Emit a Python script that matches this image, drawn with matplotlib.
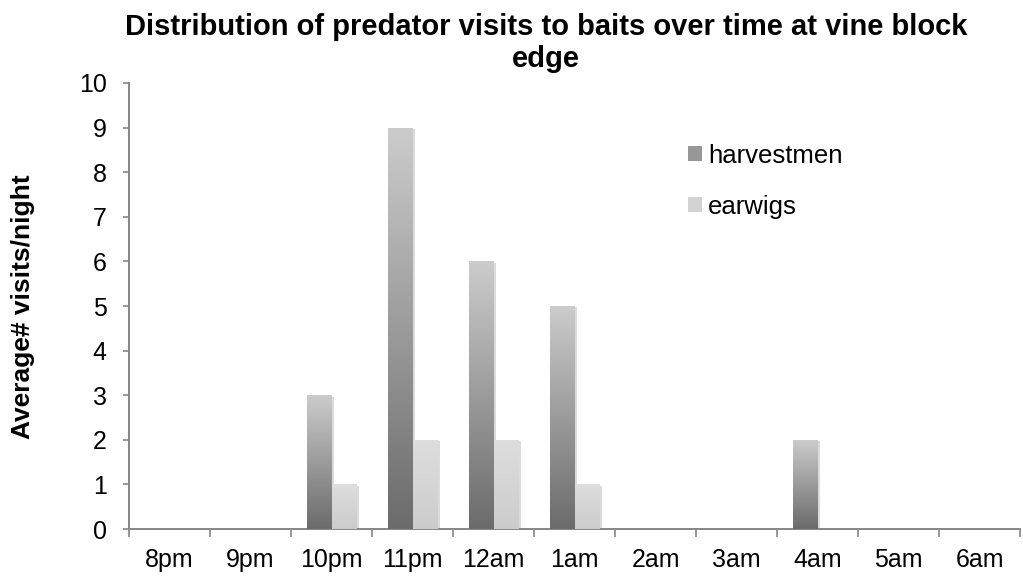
import numpy as np
import matplotlib.pyplot as plt
import matplotlib.patheffects as pe
from matplotlib.patches import Patch

plt.rcParams['font.family'] = ['Liberation Sans', 'DejaVu Sans']

# chart data
hours = ["8pm", "9pm", "10pm", "11pm", "12am", "1am", "2am", "3am", "4am", "5am", "6am"]
harvestmen = [0, 0, 3, 9, 6, 5, 0, 0, 2, 0, 0]
earwigs = [0, 0, 1, 2, 2, 1, 0, 0, 0, 0, 0]


def gradient_bars(ax, bars, bottom_col, top_col):
    """Fill each bar with a vertical gradient clipped to its rectangle."""
    grad = np.linspace(0, 1, 256).reshape(-1, 1, 1)
    b = np.array(bottom_col)
    t = np.array(top_col)
    img = b + (t - b) * grad
    for bar in bars:
        h = bar.get_height()
        if h <= 0:
            bar.set_visible(False)
            continue
        x0 = bar.get_x()
        w = bar.get_width()
        # keep the patch for its soft shadow, the image goes on top
        bar.set_facecolor("white")
        bar.set_edgecolor("none")
        bar.set_path_effects([pe.SimplePatchShadow(offset=(2, -1), shadow_rgbFace="#999999",
                                                   alpha=0.35), pe.Normal()])
        im = ax.imshow(img, extent=(x0, x0 + w, 0, h), origin="lower",
                       aspect="auto", zorder=3, interpolation="bilinear")
        im.set_clip_path(bar)


fig = plt.figure(figsize=(10.23, 5.8), dpi=100)
ax = fig.add_axes([0.1261, 0.0879, 0.871, 0.769])

x = np.arange(len(hours))
w = 0.3
b1 = ax.bar(x - w / 2, harvestmen, w, zorder=2)
b2 = ax.bar(x + w / 2, earwigs, w, zorder=2)
gradient_bars(ax, b1, (0.42, 0.42, 0.42), (0.80, 0.80, 0.80))
gradient_bars(ax, b2, (0.80, 0.80, 0.80), (0.87, 0.87, 0.87))

ax.set_xlim(-0.5, len(hours) - 0.5)
ax.set_ylim(0, 10)
ax.set_yticks(range(0, 11))
ax.set_xticks(x)
ax.set_xticklabels(hours)
ax.set_xticks(np.arange(-0.5, len(hours)), minor=True)
ax.tick_params(axis="x", which="major", length=0, labelsize=18, pad=13.5)
ax.tick_params(axis="x", which="minor", length=6, width=1.2, color="#868686", direction="out")
ax.tick_params(axis="y", length=4.5, width=1.2, color="#868686", labelsize=18, pad=11.5)

for s in ["top", "right"]:
    ax.spines[s].set_visible(False)
for s in ["left", "bottom"]:
    ax.spines[s].set_color("#868686")
    ax.spines[s].set_linewidth(1.4)

fig.text(0.022, 0.471, "Average# visits/night", rotation=90, ha="center", va="center",
         fontsize=19, fontweight="bold")
fig.suptitle("Distribution of predator visits to baits over time at vine block\nedge",
             x=0.534, y=0.977, va="top", fontsize=21, fontweight="bold", linespacing=1.15)

handles = [Patch(facecolor="#979797", label="harvestmen"),
           Patch(facecolor="#d3d3d3", label="earwigs")]
fig.legend(handles=handles, loc="upper left", bbox_to_anchor=(0.6725, 0.752),
           frameon=False, fontsize=18.5, handlelength=0.55, handleheight=0.55,
           handletextpad=0.23, labelspacing=1.05, borderpad=0, borderaxespad=0)

fig.savefig("out.png", dpi=100)
